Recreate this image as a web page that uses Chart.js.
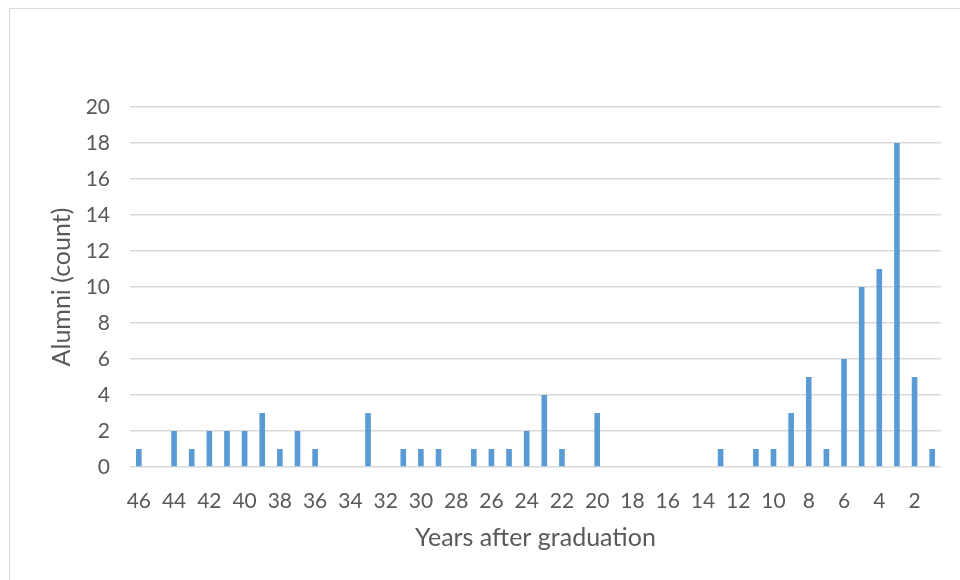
<!DOCTYPE html>
<html>
<head>
<meta charset="utf-8">
<script src="https://cdn.jsdelivr.net/npm/chart.js@4/dist/chart.umd.min.js"></script>
<style>
  html, body { margin: 0; padding: 0; background: #ffffff; overflow: hidden; }
  #wrap { position: relative; width: 960px; height: 580px; }
  #frame { position: absolute; left: 9px; top: 8px; width: 980px; height: 600px;
           border: 1.5px solid #d9d9d9; box-sizing: border-box; pointer-events: none; }
  canvas { position: absolute; left: 0; top: 0; }
</style>
</head>
<body>
<div id="wrap">
  <canvas id="chart" width="960" height="580"></canvas>
  <div id="frame"></div>
</div>
<script>
// Years since graduation, oldest class first
const years = ["46","45","44","43","42","41","40","39","38","37","36","35","34","33","32","31",
               "30","29","28","27","26","25","24","23","22","21","20","19","18","17","16","15",
               "14","13","12","11","10","9","8","7","6","5","4","3","2","1"];
// Number of alumni for each year
const alumni = [1,0,2,1,2,2,2,3,1,2,1,0,0,3,0,1,
                1,1,0,1,1,1,2,4,1,0,3,0,0,0,0,0,
                0,1,0,1,1,3,5,1,6,10,11,18,5,1];
const yTicks = [0,2,4,6,8,10,12,14,16,18,20];

const textColor = '#595959';
const gridColor = '#d9d9d9';
const fontFamily = 'Lato, "Open Sans", sans-serif';

new Chart(document.getElementById('chart'), {
  type: 'bar',
  data: {
    labels: years,
    datasets: [{
      label: 'Alumni',
      data: alumni,
      backgroundColor: '#5b9bd5',
      borderWidth: 0,
      categoryPercentage: 1.0,
      barPercentage: 0.32
    }]
  },
  options: {
    responsive: false,
    animation: false,
    devicePixelRatio: 1,
    layout: { padding: { left: 0, right: 19, top: 107, bottom: 0 } },
    plugins: { legend: { display: false }, tooltip: { enabled: false } },
    scales: {
      x: {
        grid: { display: false, drawTicks: false },
        border: { display: false },
        ticks: {
          autoSkip: false,
          maxRotation: 0,
          minRotation: 0,
          padding: 22,
          color: textColor,
          font: { family: fontFamily, size: 21 },
          callback: (v, i) => (i % 2 === 0 ? years[i] : '')
        },
        title: {
          display: true,
          text: 'Years after graduation',
          color: textColor,
          font: { family: fontFamily, size: 25 },
          padding: { top: 0, bottom: 27 }
        },
        afterFit: (s) => { s.height = 113; }
      },
      y: {
        min: 0,
        max: 20,
        afterBuildTicks: (s) => { s.ticks = yTicks.map(v => ({ value: v })); },
        grid: { color: gridColor, lineWidth: 1.5, drawTicks: false },
        border: { display: false },
        ticks: {
          padding: 20,
          color: textColor,
          font: { family: fontFamily, size: 21 }
        },
        title: {
          display: true,
          text: 'Alumni (count)',
          color: textColor,
          font: { family: fontFamily, size: 25 },
          padding: { top: 47, bottom: 0 }
        },
        afterFit: (s) => { s.width = 130; }
      }
    }
  }
});
</script>
</body>
</html>
